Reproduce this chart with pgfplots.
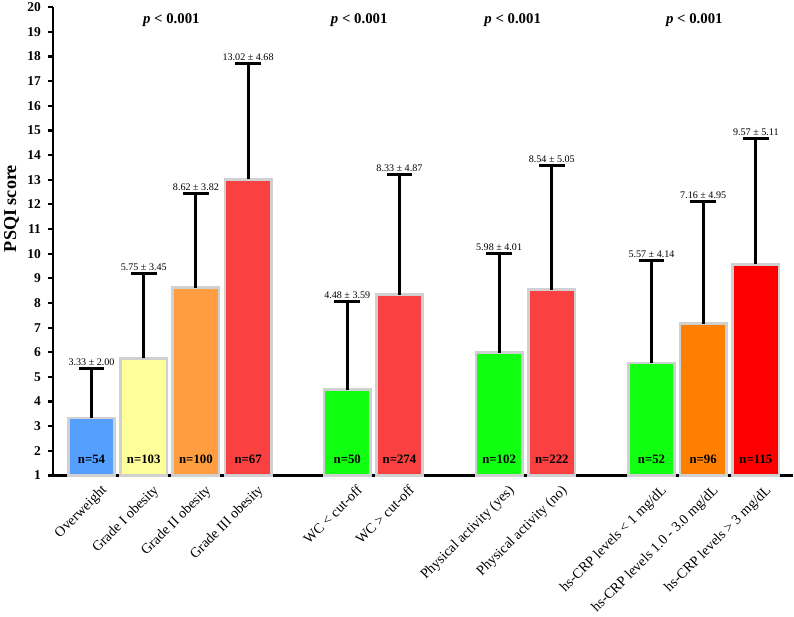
\documentclass[border=0pt]{standalone}
\usepackage{fontspec}
\setmainfont{Liberation Serif}
\usepackage{pgfplots}
\pgfplotsset{compat=1.18}

\definecolor{cblue}{HTML}{55A0FF}
\definecolor{cyellow}{HTML}{FFFF99}
\definecolor{corange}{HTML}{FF9D40}
\definecolor{cred}{HTML}{FA4040}
\definecolor{cgreen}{HTML}{11FF11}
\definecolor{corange2}{HTML}{FF8000}
\definecolor{cred2}{HTML}{FF0000}
\definecolor{barline}{HTML}{D0D0D0}

\pgfplotsset{
  mybar/.style={ybar, bar width=0.89, bar shift=0pt, fill=#1, draw=barline, line width=2pt,
    error bars/.cd, y dir=plus, y explicit,
    error bar style={line width=2.3pt, black},
    error mark options={rotate=90, line width=2.3pt, black, mark size=9.5pt}},
}

\begin{document}
\begin{tikzpicture}
\begin{axis}[
    scale only axis,
    width=549.75pt,
    height=348pt,
    xmin=-0.735, xmax=13.44,
    ymin=1, ymax=20,
    axis lines=left,
    axis line style={-, line width=1.6pt, black},
    ytick={1,2,...,20},
    ytick style={line width=1.6pt, black},
    major tick length=4pt,
    tick align=outside,
    xtick={0,1,2,3,4.9,5.9,7.81,8.82,10.73,11.72,12.73},
    xticklabels={Overweight, Grade I obesity, Grade II obesity, Grade III obesity,
      WC < cut-off, WC > cut-off, Physical activity (yes), Physical activity (no),
      hs-CRP levels < 1 mg/dL, hs-CRP levels 1.0 - 3.0 mg/dL, hs-CRP levels > 3 mg/dL},
    xtick style={draw=none},
    xticklabel style={rotate=45, anchor=north east, font=\fontsize{10.5}{12}\selectfont, inner sep=1pt, yshift=-5pt, xshift=4pt},
    /pgf/number format/assume math mode=true,
    yticklabel style={font=\fontsize{10}{12}\selectfont\bfseries, inner sep=2pt, xshift=-3pt},
    ylabel={\textbf{PSQI score}},
    ylabel style={font=\fontsize{13.5}{15}\selectfont, at={(ticklabel cs:0.57)}, anchor=near ticklabel, inner sep=3pt, yshift=1pt},
    clip=false,
]
\addplot[mybar=cblue] coordinates {(0,3.33) +- (0,2.00)};
\addplot[mybar=cyellow] coordinates {(1,5.75) +- (0,3.45)};
\addplot[mybar=corange] coordinates {(2,8.62) +- (0,3.82)};
\addplot[mybar=cred] coordinates {(3,13.02) +- (0,4.68)};
\addplot[mybar=cgreen] coordinates {(4.9,4.48) +- (0,3.59)};
\addplot[mybar=cred] coordinates {(5.9,8.33) +- (0,4.87)};
\addplot[mybar=cgreen] coordinates {(7.81,5.98) +- (0,4.01)};
\addplot[mybar=cred] coordinates {(8.82,8.54) +- (0,5.05)};
\addplot[mybar=cgreen] coordinates {(10.73,5.57) +- (0,4.14)};
\addplot[mybar=corange2] coordinates {(11.72,7.16) +- (0,4.95)};
\addplot[mybar=cred2] coordinates {(12.73,9.57) +- (0,5.11)};

% mean +- SD labels above the caps
\addplot[draw=none, mark=none, nodes near coords, point meta=explicit symbolic,
  nodes near coords style={font=\fontsize{7.5}{9}\selectfont, anchor=south, yshift=0.5pt, inner sep=1.5pt}]
  table[col sep=comma, x=x, y=y, meta=lab] {
x,y,lab
0,5.33,3.33 ± 2.00
1,9.20,5.75 ± 3.45
2,12.44,8.62 ± 3.82
3,17.70,13.02 ± 4.68
4.9,8.07,4.48 ± 3.59
5.9,13.20,8.33 ± 4.87
7.81,9.99,5.98 ± 4.01
8.82,13.59,8.54 ± 5.05
10.73,9.71,5.57 ± 4.14
11.72,12.11,7.16 ± 4.95
12.73,14.68,9.57 ± 5.11
};

% sample sizes inside the bars
\addplot[draw=none, mark=none, nodes near coords, point meta=explicit symbolic,
  nodes near coords style={font=\fontsize{9.5}{11}\selectfont\bfseries, anchor=center}]
  table[col sep=comma, x=x, y=y, meta=lab] {
x,y,lab
0,1.65,n=54
1,1.65,n=103
2,1.65,n=100
3,1.65,n=67
4.9,1.65,n=50
5.9,1.65,n=274
7.81,1.65,n=102
8.82,1.65,n=222
10.73,1.65,n=52
11.72,1.65,n=96
12.73,1.65,n=115
};

\node[font=\fontsize{11}{13}\selectfont\bfseries] at (axis cs:1.53,19.47) {\textit{p} < 0.001};
\node[font=\fontsize{11}{13}\selectfont\bfseries] at (axis cs:5.13,19.47) {\textit{p} < 0.001};
\node[font=\fontsize{11}{13}\selectfont\bfseries] at (axis cs:8.07,19.47) {\textit{p} < 0.001};
\node[font=\fontsize{11}{13}\selectfont\bfseries] at (axis cs:11.55,19.47) {\textit{p} < 0.001};
\end{axis}
\end{tikzpicture}
\end{document}
